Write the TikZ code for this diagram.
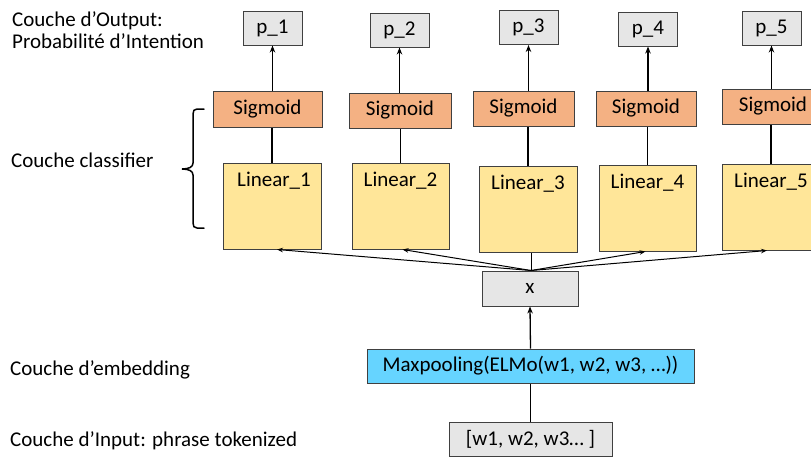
\documentclass[tikz,border=0pt]{standalone}
\usepackage{fontspec}
\setmainfont{Carlito}
\usetikzlibrary{arrows.meta}
\definecolor{grayfill}{HTML}{E6E6E6}
\definecolor{sigfill}{HTML}{F4B183}
\definecolor{linfill}{HTML}{FFE699}
\definecolor{maxfill}{HTML}{66D4FF}
\definecolor{edgegray}{HTML}{404040}
\tikzset{
  box/.style={draw=edgegray, line width=1pt, inner sep=0pt, align=center,
    font=\fontsize{21}{23}\selectfont},
  pbox/.style={box, fill=grayfill, minimum width=59pt, minimum height=34pt},
  sigbox/.style={box, fill=sigfill, minimum width=102pt, minimum height=35pt},
  linbox/.style={box, fill=linfill, minimum width=98pt, minimum height=86pt},
  lbl/.style={anchor=base, inner sep=0pt, font=\fontsize{21}{23}\selectfont},
  side/.style={anchor=base west, inner sep=0pt, font=\fontsize{21}{23}\selectfont},
  up/.style={line width=1.3pt, -{Stealth[length=7pt,width=5.5pt]}},
  fan/.style={line width=1pt, -{Stealth[length=6pt,width=4.5pt]}},
  plain/.style={line width=1.3pt},
}
\begin{document}
\begin{tikzpicture}[x=1pt,y=-1pt]
\useasboundingbox (0,0) rectangle (811,459);
\begin{scope}
\clip (0,0) rectangle (811,459);
% output boxes
\node[pbox] (p1) at (272.5,28) {p\_1};
\node[pbox] (p2) at (399.5,30) {p\_2};
\node[pbox] (p3) at (528.5,27.5) {p\_3};
\node[pbox] (p4) at (648,29) {p\_4};
\node[pbox] (p5) at (771.5,28) {p\_5};
% sigmoid boxes
\node[sigbox, minimum width=109pt, minimum height=36pt] (s1) at (267.5,109) {Sigmoid};
\node[sigbox] (s2) at (400,110.5) {Sigmoid};
\node[sigbox, minimum width=101pt] (s3) at (523.5,108.5) {Sigmoid};
\node[sigbox, minimum width=100pt] (s4) at (646,108.5) {Sigmoid};
\node[sigbox] (s5) at (773,106.5) {Sigmoid};
% linear boxes
\node[linbox] (L1) at (272,206) {};
\node[linbox, minimum width=97pt] (L2) at (400.5,206) {};
\node[linbox] (L3) at (528,209) {};
\node[linbox, minimum width=97pt] (L4) at (647.5,208) {};
\node[linbox] (L5) at (771,207) {};
\node[lbl] (t1) at ([xshift=2pt,yshift=-24pt]L1.north) {Linear\_1};
\node[lbl] (t2) at ([yshift=-24pt]L2.north) {Linear\_2};
\node[lbl] (t3) at ([yshift=-24pt]L3.north) {Linear\_3};
\node[lbl] (t4) at ([yshift=-24pt]L4.north) {Linear\_4};
\node[lbl] (t5) at ([yshift=-24pt]L5.north) {Linear\_5};
% x, embedding, input
\node[box, fill=grayfill, minimum width=96pt, minimum height=35pt] (x) at (530,288.5) {x};
\node[box, fill=maxfill, minimum width=327pt, minimum height=34pt] (mp) at (530.5,366) {Maxpooling(ELMo(w1, w2, w3, …))};
\node[box, fill=grayfill, minimum width=163pt, minimum height=34pt] (in) at (530.5,439) {[w1, w2, w3… ]};
% sigmoid -> p
\draw[up] (p1.south |- s1.north) -- (p1.south);
\draw[up] (p2.south |- s2.north) -- (p2.south);
\draw[up] (p3.south |- s3.north) -- (p3.south);
\draw[up] (p4.south |- s4.north) -- (p4.south);
\draw[up] (p5.south |- s5.north) -- (p5.south);
% linear -> sigmoid
\draw[plain] (L1.north) -- (L1.north |- s1.south);
\draw[plain] (L2.north) -- (L2.north |- s2.south);
\draw[plain] (L3.north) -- (L3.north |- s3.south);
\draw[plain] (L4.north) -- (L4.north |- s4.south);
\draw[plain] (L5.north) -- (L5.north |- s5.south);
% x -> linear
\coordinate (xo) at ([xshift=1pt]x.north);
\draw[fan] (xo) -- ([xshift=5pt]L1.south);
\draw[fan] (xo) -- ([xshift=2pt]L2.south);
\draw[line width=1pt] (xo) -- (xo |- L3.south);
\draw[fan] (xo) -- ([xshift=-2pt]L4.south);
\draw[fan] (xo) -- ([xshift=-4pt]L5.south);
% embedding -> x, input -> embedding
\draw[up] (mp.north) -- (x.south);
\draw[plain] (in.north) -- (mp.south);
\end{scope}
% brace
\draw[line width=1.5pt, line cap=round]
  (204,109) -- (197,109) .. controls (194,109) and (193,111) .. (193,114)
  -- (193,163) .. controls (193,167) and (189,169) .. (182,169)
  .. controls (189,169) and (193,171) .. (193,175)
  -- (193,223) .. controls (193,226) and (194,228) .. (197,228) -- (204,228);
% side labels
\node[side] (lo1) at (12,26) {Couche d’Output:};
\node[side] (lo2) at (12,48) {Probabilité d’Intention};
\node[side] (lc) at (11,167) {Couche classifier};
\node[side] (le) at (10,375) {Couche d’embedding};
\node[side] (li) at (10,446) {Couche d’Input: phrase tokenized};
\end{tikzpicture}
\end{document}
